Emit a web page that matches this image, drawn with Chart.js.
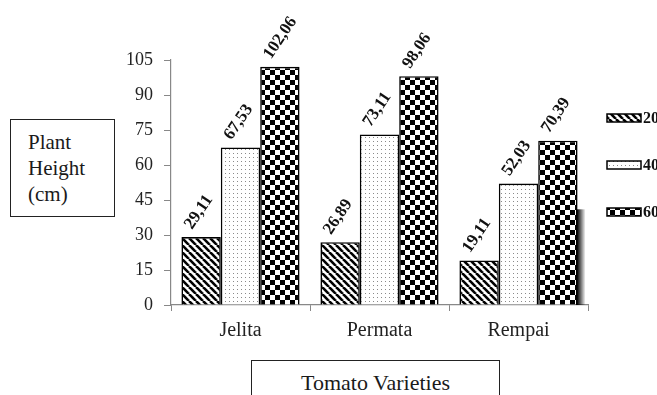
<!DOCTYPE html>
<html>
<head>
<meta charset="utf-8">
<script src="https://cdn.jsdelivr.net/npm/chart.js@4.4.1/dist/chart.umd.min.js"></script>
<style>
  body { margin: 0; background: #fff; }
  #wrap { position: relative; width: 657px; height: 395px; overflow: hidden; }
  .box {
    position: absolute;
    border: 1px solid #222;
    font-family: "Liberation Serif", "Times New Roman", serif;
    color: #1a1a1a;
    background: #fff;
  }
  #ylab { left: 10px; top: 119px; width: 103px; height: 96px; font-size: 21px; line-height: 26px; }
  #ylab span { display: block; padding-left: 17px; padding-top: 9px; }
  #xlab { left: 251px; top: 360px; width: 247px; height: 60px; font-size: 22px; text-align: center; line-height: 44px; }
</style>
</head>
<body>
<div id="wrap">
  <canvas id="plantChart" width="657" height="395"></canvas>
  <div class="box" id="ylab"><span>Plant<br>Height<br>(cm)</span></div>
  <div class="box" id="xlab">Tomato Varieties</div>
</div>
<script>
const varieties = ["Jelita", "Permata", "Rempai"];
const seriesNames = ["20", "40", "60"];
const height20 = [29.11, 26.89, 19.11];
const height40 = [67.53, 73.11, 52.03];
const height60 = [102.06, 98.06, 70.39];
const yTicks = [0, 15, 30, 45, 60, 75, 90, 105];

const serif = "'Liberation Serif', 'Times New Roman', serif";

// fill patterns like the old black & white print
function stripes() {
  const c = document.createElement("canvas");
  c.width = 7; c.height = 7;
  const g = c.getContext("2d");
  g.fillStyle = "#fff"; g.fillRect(0, 0, 7, 7);
  g.strokeStyle = "#000"; g.lineWidth = 2.6;
  for (const x0 of [-7, 0, 7]) {
    g.beginPath(); g.moveTo(x0, 0); g.lineTo(x0 + 7, 7); g.stroke();
  }
  return g.createPattern(c, "repeat");
}
function dots() {
  const c = document.createElement("canvas");
  c.width = 4; c.height = 4;
  const g = c.getContext("2d");
  g.fillStyle = "#fff"; g.fillRect(0, 0, 4, 4);
  g.fillStyle = "#8a8a8a"; g.fillRect(1, 1, 1, 1);
  return g.createPattern(c, "repeat");
}
function checker() {
  const c = document.createElement("canvas");
  c.width = 10; c.height = 10;
  const g = c.getContext("2d");
  g.fillStyle = "#fff"; g.fillRect(0, 0, 10, 10);
  g.fillStyle = "#000"; g.fillRect(0, 0, 5, 5); g.fillRect(5, 5, 5, 5);
  return g.createPattern(c, "repeat");
}
const fills = [stripes(), dots(), checker()];

const valueLabels = {
  id: "valueLabels",
  afterDatasetsDraw(chart) {
    const ctx = chart.ctx;
    ctx.save();
    ctx.font = "bold 17px " + serif;
    ctx.fillStyle = "#111";
    ctx.textAlign = "left";
    ctx.textBaseline = "alphabetic";
    chart.data.datasets.forEach((ds, i) => {
      chart.getDatasetMeta(i).data.forEach((bar, j) => {
        const txt = ds.data[j].toFixed(2).replace(".", ",");
        ctx.save();
        ctx.translate(bar.x - 9, bar.y - 7);
        ctx.rotate(-56 * Math.PI / 180);
        ctx.fillText(txt, 0, 0);
        ctx.restore();
      });
    });
    ctx.restore();
  }
};

// dark smudge on the right of the last bar (scan artefact)
const smudge = {
  id: "smudge",
  beforeDatasetsDraw(chart) {
    const meta = chart.getDatasetMeta(2);
    const bar = meta.data[meta.data.length - 1];
    const ctx = chart.ctx;
    const x = bar.x + bar.width / 2;
    const top = chart.scales.y.getPixelForValue(41);
    const g = ctx.createLinearGradient(x, 0, x + 8, 0);
    g.addColorStop(0, "rgba(0,0,0,0.95)");
    g.addColorStop(1, "rgba(0,0,0,0)");
    ctx.save();
    ctx.fillStyle = g;
    ctx.fillRect(x - 2, top, 10, chart.chartArea.bottom - top);
    ctx.restore();
  }
};

const sideLegend = {
  id: "sideLegend",
  afterDraw(chart) {
    const ctx = chart.ctx;
    ctx.save();
    ctx.font = "bold 16px " + serif;
    ctx.textBaseline = "middle";
    chart.data.datasets.forEach((ds, i) => {
      const y = 118 + i * 47;
      ctx.fillStyle = ds.backgroundColor;
      ctx.fillRect(607, y - 4, 34, 8);
      ctx.strokeStyle = "#000";
      ctx.lineWidth = 1.5;
      ctx.strokeRect(607, y - 4, 34, 8);
      ctx.fillStyle = "#111";
      ctx.fillText(ds.label, 643, y + 1);
    });
    ctx.restore();
  }
};

const ctx = document.getElementById("plantChart").getContext("2d");
const plantChart = new Chart(ctx, {
  type: "bar",
  data: {
    labels: varieties,
    datasets: [height20, height40, height60].map((d, i) => ({
      label: seriesNames[i],
      data: d,
      backgroundColor: fills[i],
      borderColor: "#000",
      borderWidth: 1.6,
      categoryPercentage: 0.85,
      barPercentage: 1.0,
    })),
  },
  options: {
    responsive: false,
    devicePixelRatio: 1,
    animation: false,
    layout: { padding: { top: 60, right: 69, left: 0, bottom: 0 } },
    plugins: {
      legend: { display: false },
      tooltip: { enabled: false },
    },
    scales: {
      y: {
        min: 0,
        max: 105,
        afterBuildTicks: (scale) => {
          scale.ticks = yTicks.map((v) => ({ value: v }));
        },
        afterFit: (scale) => { scale.width = 171; },
        ticks: {
          color: "#222",
          padding: 11,
          font: { family: serif, size: 18 },
        },
        grid: { drawOnChartArea: false, tickLength: 7, color: "#888" },
        border: { color: "#888", width: 1.2 },
      },
      x: {
        afterFit: (scale) => { scale.height = 90; },
        ticks: {
          color: "#222",
          padding: 8,
          font: { family: serif, size: 20 },
        },
        grid: { offset: true, drawOnChartArea: false, tickLength: 6, color: "#888" },
        border: { color: "#888", width: 1.2 },
      },
    },
  },
  plugins: [smudge, valueLabels, sideLegend],
});
</script>
</body>
</html>
